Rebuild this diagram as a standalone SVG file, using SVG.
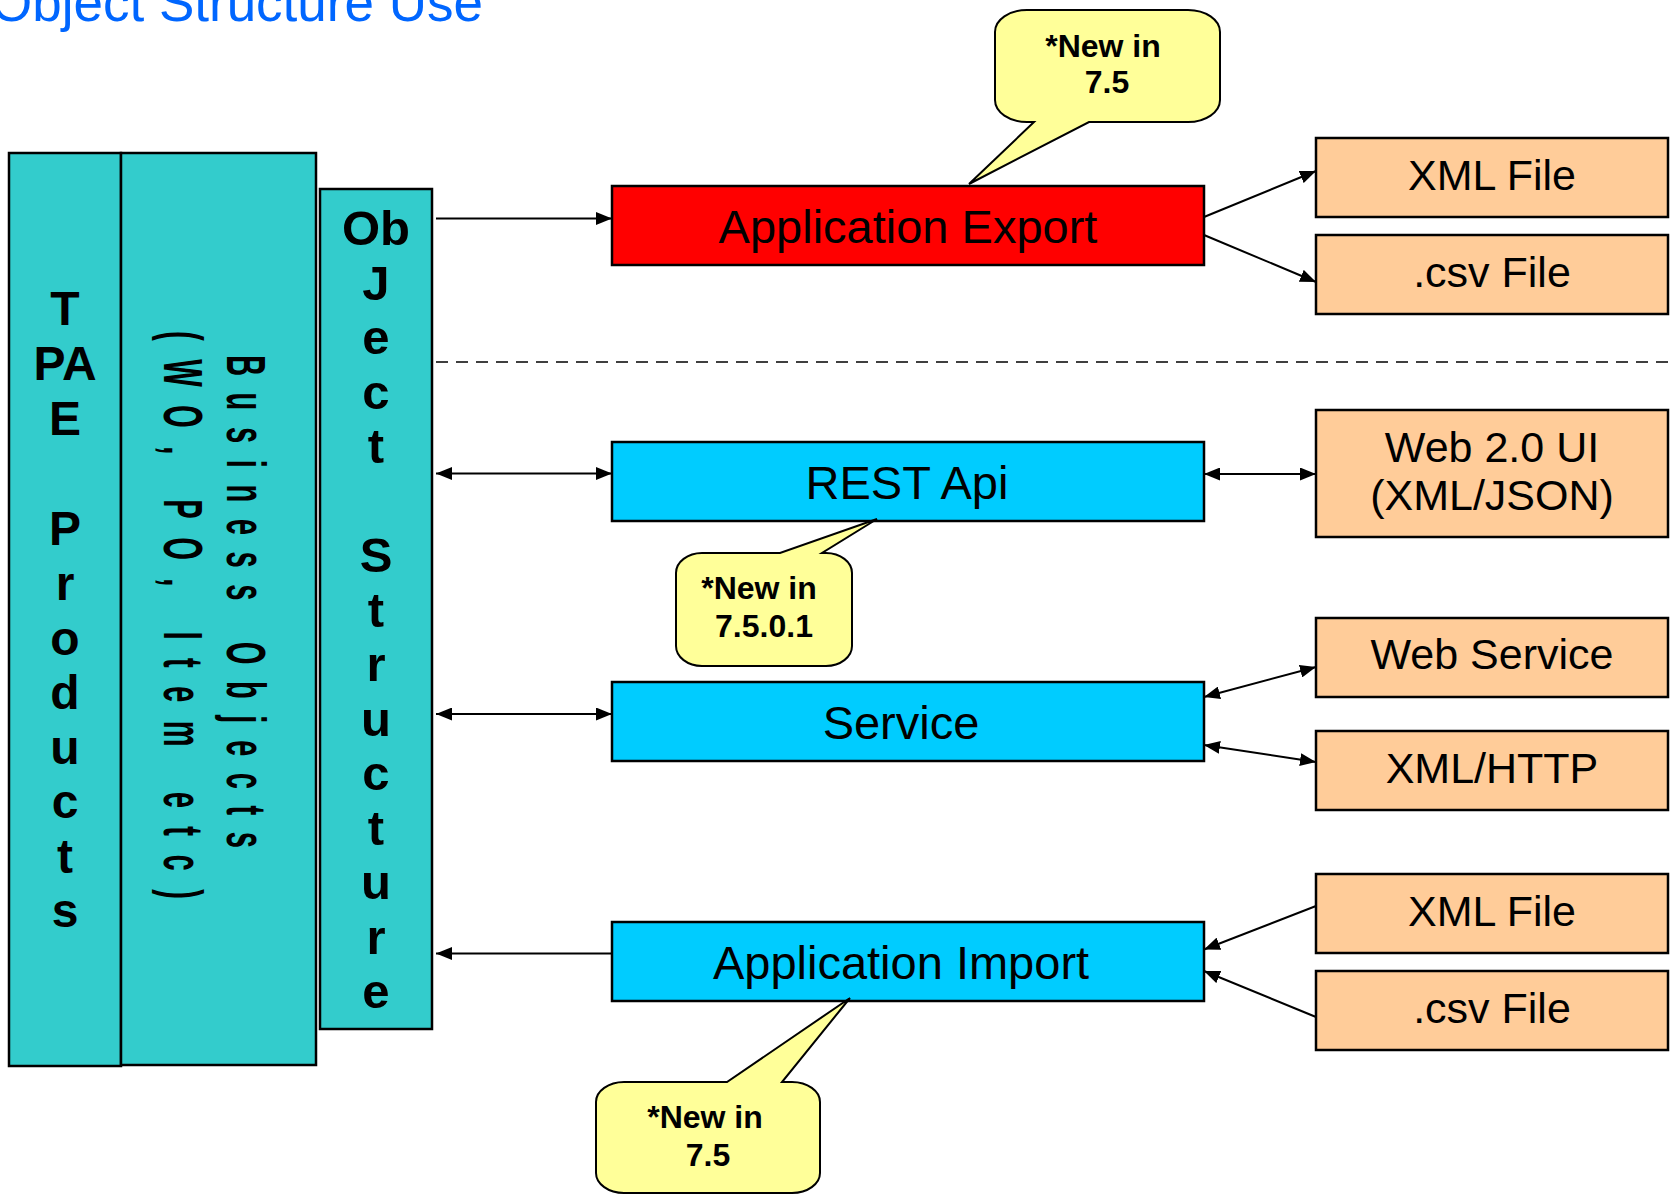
<svg xmlns="http://www.w3.org/2000/svg" width="1672" height="1197" viewBox="0 0 1672 1197">
<style>
.bg{fill:#ffffff}
.teal{fill:#33CCCC;stroke:#000;stroke-width:2.5}
.red{fill:#FF0000;stroke:#000;stroke-width:2.5}
.cyan{fill:#00CCFF;stroke:#000;stroke-width:2.5}
.peach{fill:#FFCC99;stroke:#000;stroke-width:2.5}
.bubble{fill:#FFFF99;stroke:#000;stroke-width:2}
.t44{font-family:"Liberation Sans",Arial,sans-serif;font-size:47px;fill:#000;text-anchor:middle}
.t40{font-family:"Liberation Sans",Arial,sans-serif;font-size:43px;fill:#000;text-anchor:middle}
.vb{font-family:"Liberation Sans",Arial,sans-serif;font-weight:bold;fill:#000;text-anchor:middle}
.biz{font-family:"Liberation Sans",Arial,sans-serif;font-weight:bold;font-size:56px;fill:#000}
.note{font-family:"Liberation Sans",Arial,sans-serif;font-weight:bold;font-size:32px;fill:#000;text-anchor:middle}
.title{font-family:"Liberation Sans",Arial,sans-serif;font-size:53px;fill:#0066FF}
.conn{stroke:#000;stroke-width:2;fill:none}
.dash{stroke:#000;stroke-width:1.5;stroke-dasharray:12 8;fill:none}
</style>
<defs>
<marker id="ah" markerUnits="userSpaceOnUse" markerWidth="16" markerHeight="13" viewBox="0 0 16 13" refX="16" refY="6.5" orient="auto-start-reverse">
<path d="M0,0 L16,6.5 L0,13 Z" fill="#000"/>
</marker>
</defs>
<rect class="bg" x="0" y="0" width="1672" height="1197"/>

<text class="title" x="-9" y="21">Object Structure Use</text>

<g id="tpae">
<rect class="teal" x="9" y="153" width="112" height="913"/>
<g class="vb" font-size="48">
<text x="65" y="325">T</text>
<text x="65" y="380">PA</text>
<text x="65" y="435">E</text>
<text x="65" y="545">P</text>
<text x="65" y="600">r</text>
<text x="65" y="655">o</text>
<text x="65" y="709">d</text>
<text x="65" y="764">u</text>
<text x="65" y="818">c</text>
<text x="65" y="873">t</text>
<text x="65" y="927">s</text>
</g>
</g>

<g id="business">
<rect class="teal" x="121" y="153" width="195" height="912"/>
<text class="biz" transform="translate(227,355) rotate(90) scale(0.52,1)" textLength="948" lengthAdjust="spacing">Business Objects</text>
<text class="biz" transform="translate(164,331) rotate(90) scale(0.52,1)" textLength="1092" lengthAdjust="spacing">(WO, PO, Item etc)</text>
</g>

<g id="objstruct">
<rect class="teal" x="320" y="189" width="112" height="840"/>
<g class="vb" font-size="49">
<text x="376" y="245">Ob</text>
<text x="376" y="299.5">J</text>
<text x="376" y="354">e</text>
<text x="376" y="408.5">c</text>
<text x="376" y="463">t</text>
<text x="376" y="572">S</text>
<text x="376" y="626.5">t</text>
<text x="376" y="681">r</text>
<text x="376" y="735.5">u</text>
<text x="376" y="790">c</text>
<text x="376" y="844.5">t</text>
<text x="376" y="899">u</text>
<text x="376" y="953.5">r</text>
<text x="376" y="1008">e</text>
</g>
</g>

<g id="connectors">
<line class="conn" x1="436" y1="218.5" x2="612" y2="218.5" marker-end="url(#ah)"/>
<line class="dash" x1="436" y1="362" x2="1672" y2="362"/>
<line class="conn" x1="436" y1="473.5" x2="612" y2="473.5" marker-start="url(#ah)" marker-end="url(#ah)"/>
<line class="conn" x1="436" y1="714" x2="612" y2="714" marker-start="url(#ah)" marker-end="url(#ah)"/>
<line class="conn" x1="612" y1="953.5" x2="436" y2="953.5" marker-end="url(#ah)"/>
<line class="conn" x1="1204" y1="217" x2="1316" y2="171" marker-end="url(#ah)"/>
<line class="conn" x1="1204" y1="235" x2="1316" y2="282" marker-end="url(#ah)"/>
<line class="conn" x1="1204" y1="474" x2="1316" y2="474" marker-start="url(#ah)" marker-end="url(#ah)"/>
<line class="conn" x1="1204" y1="697" x2="1316" y2="667" marker-start="url(#ah)" marker-end="url(#ah)"/>
<line class="conn" x1="1204" y1="745" x2="1316" y2="762" marker-start="url(#ah)" marker-end="url(#ah)"/>
<line class="conn" x1="1316" y1="906" x2="1204" y2="949.5" marker-end="url(#ah)"/>
<line class="conn" x1="1316" y1="1017" x2="1204" y2="971" marker-end="url(#ah)"/>
</g>

<g id="export">
<rect class="red" x="612" y="186" width="592" height="79"/>
<text class="t44" x="908" y="243">Application Export</text>
</g>
<g id="rest">
<rect class="cyan" x="612" y="442" width="592" height="79"/>
<text class="t44" x="907" y="499">REST Api</text>
</g>
<g id="service">
<rect class="cyan" x="612" y="682" width="592" height="79"/>
<text class="t44" x="901" y="739">Service</text>
</g>
<g id="import">
<rect class="cyan" x="612" y="922" width="592" height="79"/>
<text class="t44" x="901" y="979">Application Import</text>
</g>

<g id="xmlfile1">
<rect class="peach" x="1316" y="138" width="352" height="79"/>
<text class="t40" x="1492" y="190">XML File</text>
</g>
<g id="csvfile1">
<rect class="peach" x="1316" y="235" width="352" height="79"/>
<text class="t40" x="1492" y="287">.csv File</text>
</g>
<g id="web20">
<rect class="peach" x="1316" y="410" width="352" height="127"/>
<text class="t40" x="1492" y="462">Web 2.0 UI</text>
<text class="t40" x="1492" y="510">(XML/JSON)</text>
</g>
<g id="webservice">
<rect class="peach" x="1316" y="618" width="352" height="79"/>
<text class="t40" x="1492" y="669">Web Service</text>
</g>
<g id="xmlhttp">
<rect class="peach" x="1316" y="731" width="352" height="79"/>
<text class="t40" x="1492" y="783">XML/HTTP</text>
</g>
<g id="xmlfile2">
<rect class="peach" x="1316" y="874" width="352" height="79"/>
<text class="t40" x="1492" y="926">XML File</text>
</g>
<g id="csvfile2">
<rect class="peach" x="1316" y="971" width="352" height="79"/>
<text class="t40" x="1492" y="1023">.csv File</text>
</g>

<g id="note1">
<path class="bubble" d="M1027,10 H1188 A32,22 0 0 1 1220,32 V100 A32,22 0 0 1 1188,122 H1089 L969,184 L1034,122 H1027 A32,22 0 0 1 995,100 V32 A32,22 0 0 1 1027,10 Z"/>
<text class="note" x="1103" y="57">*New in</text>
<text class="note" x="1107" y="93">7.5</text>
</g>
<g id="note2">
<path class="bubble" d="M702,553 H780 L877,519 L822,553 H826 A26,20 0 0 1 852,573 V646 A26,20 0 0 1 826,666 H702 A26,20 0 0 1 676,646 V573 A26,20 0 0 1 702,553 Z"/>
<text class="note" x="759" y="599">*New in</text>
<text class="note" x="764" y="637">7.5.0.1</text>
</g>
<g id="note3">
<path class="bubble" d="M624,1082 H727 L850,998 L782,1082 H792 A28,20 0 0 1 820,1102 V1173 A28,20 0 0 1 792,1193 H624 A28,20 0 0 1 596,1173 V1102 A28,20 0 0 1 624,1082 Z"/>
<text class="note" x="705" y="1128">*New in</text>
<text class="note" x="708" y="1166">7.5</text>
</g>
</svg>
